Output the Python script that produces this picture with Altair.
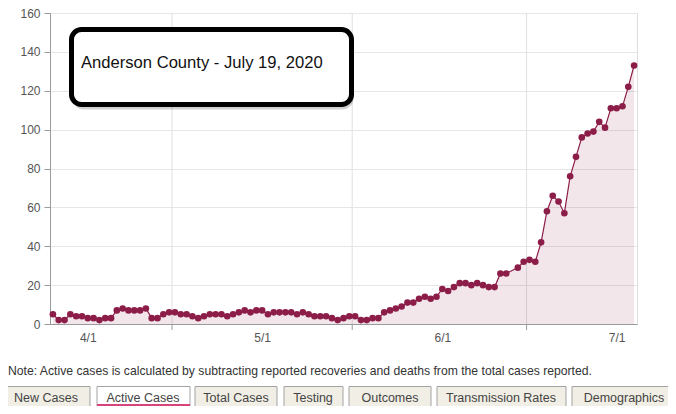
import altair as alt
import pandas as pd

# ---------------- data ----------------
DATE_START = "2020-04-10"
DATE_END = "2020-07-19"
MISSING_DAY = "2020-06-28"
active_cases = [
    5, 2, 2, 5, 4, 4, 3, 3, 2, 3, 3, 7, 8, 7, 7, 7, 8, 3, 3, 5, 6,          # 4/10 - 4/30
    6, 5, 5, 4, 3, 4, 5, 5, 5, 4, 5, 6, 7, 6, 7, 7, 5, 6, 6, 6, 6, 5, 6,  # 5/1 - 5/23
    5, 4, 4, 4, 3, 2, 3, 4,                                              # 5/24 - 5/31
    4, 2, 2, 3, 3, 6, 7, 8, 9, 11, 11, 13, 14, 13, 14, 18, 17, 19, 21,    # 6/1 - 6/19
    21, 20, 21, 20, 19, 19, 26, 26, None, 29, 32,                        # 6/20 - 6/30
    33, 32, 42, 58, 66, 63, 57, 76, 86, 96, 98, 99, 104, 101, 111, 111,  # 7/1 - 7/16
    112, 122, 133,                                                       # 7/17 - 7/19
]
month_starts = ["2020-05-01", "2020-06-01", "2020-07-01"]
label_months = [4, 5, 6, 7]
y_ticks = [0, 20, 40, 60, 80, 100, 120, 140, 160]
title_text = "Anderson County - July 19, 2020"
note_text = ("Note: Active cases is calculated by subtracting reported recoveries "
             "and deaths from the total cases reported.")
tab_names = ["New Cases", "Active Cases", "Total Cases", "Testing",
             "Outcomes", "Transmission Rates", "Demographics"]
active_tab = "Active Cases"

# ---------------- layout / style ----------------
W, H = 587, 311
CANVAS_W, CANVAS_H = 660, 398
MAROON = "#8c1d48"
tab_edges = [(2, 90), (97, 190), (195, 277), (284, 343), (349, 431), (437, 566), (572, 700)]
tab_text_centers = [46, 143, 236, 313, 390, 501, 624]
OX, OY = 50, 13  # plot origin in page coordinates

dates = pd.date_range(DATE_START, DATE_END, freq="D") + pd.Timedelta(hours=12)
df = pd.DataFrame({"date": dates, "active": active_cases})
df = df[df["date"].dt.strftime("%Y-%m-%d") != MISSING_DAY].dropna()

x_scale = alt.Scale(domain=[alt.DateTime(year=2020, month=4, date=10),
                            alt.DateTime(year=2020, month=7, date=20)], nice=False)
x_axis = alt.Axis(
    values=[alt.DateTime(year=2020, month=m, date=16, hours=12) for m in label_months],
    labelExpr="(month(datum.value) + 1) + '/1'",
    ticks=False, tickSize=0, grid=False, title=None,
    domainColor="#9a9a9a", labelColor="#555555", labelFontSize=12, labelPadding=8,
)
y_enc = alt.Y("active:Q", scale=alt.Scale(domain=[0, 160], nice=False),
              axis=alt.Axis(values=y_ticks, title=None, grid=True, gridColor="#e6e6e6",
                            domainColor="#9a9a9a", tickColor="#9a9a9a", tickSize=6,
                            labelPadding=4, labelColor="#555555", labelFontSize=12))


def xenc(field):
    return alt.X(field, scale=x_scale, axis=x_axis)


months_df = pd.DataFrame({"m": pd.to_datetime(month_starts)})
grid_rules = alt.Chart(months_df).mark_rule(color="#e0e0e0").encode(
    x=xenc("m:T"), y=alt.value(0), y2=alt.value(H))
grid_ticks = alt.Chart(months_df).mark_rule(color="#9a9a9a").encode(
    x=xenc("m:T"), y=alt.value(H), y2=alt.value(H + 6))

base = alt.Chart(df).encode(x=xenc("date:T"), y=y_enc)
area = base.mark_area(color=MAROON, opacity=0.11)
line = base.mark_line(color=MAROON, strokeWidth=1.2)
pts = base.mark_circle(color=MAROON, size=44, opacity=1)

one = pd.DataFrame({"k": [0]})

shadow = alt.Chart(one).mark_rect(fill="#000000", opacity=0.18, cornerRadius=11).encode(
    x=alt.value(22.5), x2=alt.value(303.5), y=alt.value(19.5), y2=alt.value(96.5))
box = alt.Chart(one).mark_rect(fill="white", stroke="black", strokeWidth=5, cornerRadius=10).encode(
    x=alt.value(21.5), x2=alt.value(301.5), y=alt.value(16.5), y2=alt.value(91.5))
box_text = alt.Chart(one).mark_text(align="left", baseline="alphabetic", fontSize=16.6,
                                    color="#111111").encode(
    x=alt.value(81 - OX), y=alt.value(68 - OY), text=alt.value(title_text))

note = alt.Chart(one).mark_text(align="left", baseline="middle", fontSize=12.2,
                                color="#333333").encode(
    x=alt.value(8 - OX), y=alt.value(371 - OY), text=alt.value(note_text))

tab_layers = []
for name, (x0, x1), cx in zip(tab_names, tab_edges, tab_text_centers):
    is_active = name == active_tab
    tab_layers.append(
        alt.Chart(one).mark_rect(fill="white" if is_active else "#f1eee5",
                                 stroke="#a3a3a3", strokeWidth=1).encode(
            x=alt.value(x0 - OX), x2=alt.value(x1 - OX),
            y=alt.value(386.5 - OY), y2=alt.value(430 - OY)))
    tab_layers.append(
        alt.Chart(one).mark_text(align="center", baseline="middle", fontSize=12.5,
                                 color="#444444").encode(
            x=alt.value(cx - OX), y=alt.value(398 - OY), text=alt.value(name)))
    if is_active:
        tab_layers.append(
            alt.Chart(one).mark_rule(color="#d9437c", strokeWidth=2).encode(
                x=alt.value(x0 - OX), x2=alt.value(x1 - OX), y=alt.value(405 - OY)))

chart = alt.layer(
    grid_rules, grid_ticks, area, line, pts, shadow, box, box_text, note, *tab_layers
).properties(
    width=W, height=H,
    autosize=alt.AutoSizeParams(type="none"),
    padding={"left": OX - 8, "top": OY - 8,
             "right": CANVAS_W - (OX - 8) - W, "bottom": CANVAS_H - (OY - 8) - H},
).configure_view(stroke=None).configure(font="Liberation Sans")

chart.save("out.html", embed_options={"renderer": "svg", "actions": False})
